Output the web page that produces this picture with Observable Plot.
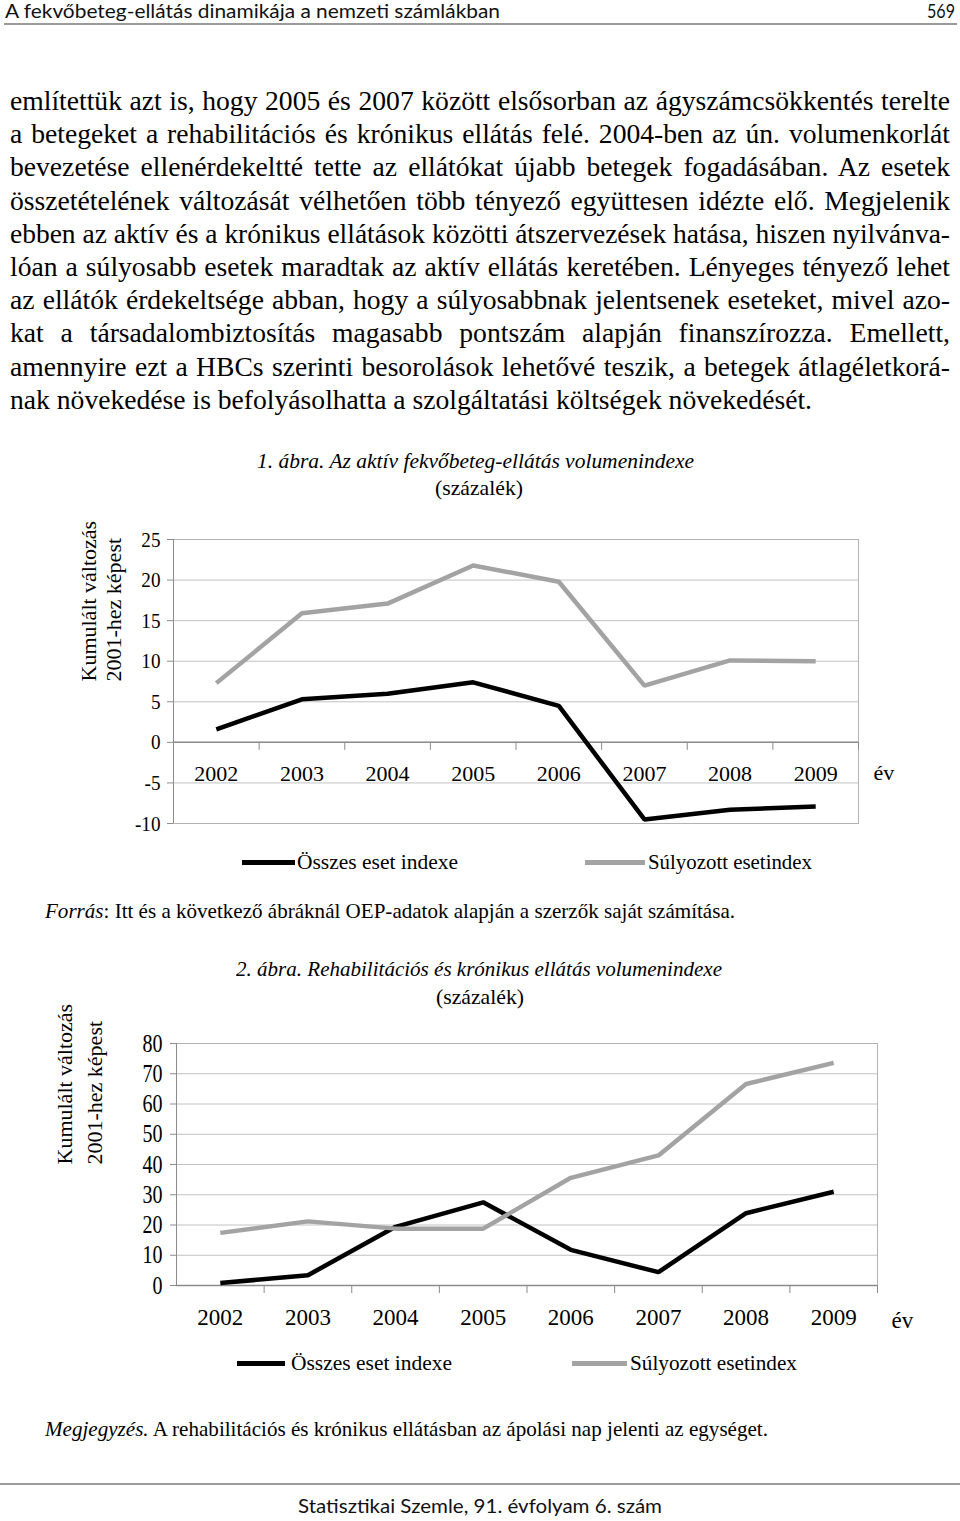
<!DOCTYPE html>
<html><head><meta charset="utf-8">
<script src="https://cdn.jsdelivr.net/npm/d3@7"></script>
<script src="https://cdn.jsdelivr.net/npm/@observablehq/plot@0.6"></script>
<style>
html,body{margin:0;padding:0;background:#fff;}
#page{position:relative;width:960px;height:1521px;overflow:hidden;font-family:"Liberation Serif","Times New Roman",serif;color:#000;}
.t{position:absolute;white-space:nowrap;transform-origin:0 50%;}
.sw{position:absolute;}
.hr{position:absolute;height:2px;background:#9a9a9a;}
.chart{position:absolute;left:0;}
</style></head>
<body><div id="page"></div>
<script>
// ---------- data ----------
const years = [2002, 2003, 2004, 2005, 2006, 2007, 2008, 2009];
const seriesNames = ["Összes eset indexe", "Súlyozott esetindex"];
const chart1Osszes = [1.6, 5.3, 6.0, 7.4, 4.5, -9.5, -8.3, -7.9];
const chart1Sulyozott = [7.3, 15.9, 17.1, 21.8, 19.8, 7.0, 10.1, 10.0];
const chart1Ticks = [-10, -5, 0, 5, 10, 15, 20, 25];
const chart2Osszes = [0.8, 3.4, 19.4, 27.5, 11.8, 4.4, 23.9, 31.0];
const chart2Sulyozott = [17.4, 21.2, 18.8, 18.8, 35.6, 43.0, 66.6, 73.6];
const chart2Ticks = [0, 10, 20, 30, 40, 50, 60, 70, 80];
const yTitleLines = ["Kumulált változás", "2001-hez képest"];
const xUnit = "év";

const bodyLines = [
"említettük azt is, hogy 2005 és 2007 között elsősorban az ágyszámcsökkentés terelte",
"a betegeket a rehabilitációs és krónikus ellátás felé. 2004-ben az ún. volumenkorlát",
"bevezetése ellenérdekeltté tette az ellátókat újabb betegek fogadásában. Az esetek",
"összetételének változását vélhetően több tényező együttesen idézte elő. Megjelenik",
"ebben az aktív és a krónikus ellátások közötti átszervezések hatása, hiszen nyilvánva-",
"lóan a súlyosabb esetek maradtak az aktív ellátás keretében. Lényeges tényező lehet",
"az ellátók érdekeltsége abban, hogy a súlyosabbnak jelentsenek eseteket, mivel azo-",
"kat a társadalombiztosítás magasabb pontszám alapján finanszírozza. Emellett,",
"amennyire ezt a HBCs szerinti besorolások lehetővé teszik, a betegek átlagéletkorá-",
"nak növekedése is befolyásolhatta a szolgáltatási költségek növekedését."
];

const page = document.getElementById("page");
function addText(html, left, cy, size, targetW, opts = {}) {
  const el = document.createElement("div");
  el.className = "t";
  el.innerHTML = html;
  el.style.left = left + "px";
  el.style.fontSize = size + "px";
  const lh = opts.lineHeight || size * 1.2;
  el.style.lineHeight = lh + "px";
  el.style.top = (opts.top !== undefined ? opts.top : cy - lh / 2) + "px";
  if (opts.family) el.style.fontFamily = opts.family;
  if (opts.italic) el.style.fontStyle = "italic";
  if (opts.color) el.style.color = opts.color;
  page.appendChild(el);
  if (targetW) {
    const w = el.getBoundingClientRect().width;
    el.style.transform = `scaleX(${targetW / w})`;
  }
  return el;
}
function addBox(cls, left, top, w, h, color) {
  const el = document.createElement("div");
  el.className = cls;
  Object.assign(el.style, {left: left + "px", top: top + "px", width: w + "px", height: h + "px"});
  if (color) el.style.background = color;
  page.appendChild(el);
}

// header
const headFont = "Lato, 'Open Sans', sans-serif";
addText("A fekvőbeteg-ellátás dinamikája a nemzeti számlákban", 5, 0, 18.5, 495, {family: headFont, color: "#111", top: 0});
addText("569", 927, 0, 18.5, 28, {family: headFont, color: "#111", top: 0});
addBox("hr", 4, 23, 953, 2);

// body text lines
(function(){
  const size = 28;
  const lh = 33.2;
  const top0 = 84;
  const probe = addText(bodyLines[bodyLines.length - 1], 10, 700, size);
  const f = 802 / probe.getBoundingClientRect().width;
  probe.remove();
  bodyLines.forEach((line, i) => {
    const el = document.createElement("div");
    el.className = "t";
    el.textContent = line;
    el.style.fontSize = size + "px";
    el.style.lineHeight = lh + "px";
    el.style.left = "10px";
    el.style.top = (top0 + i * lh) + "px";
    page.appendChild(el);
    const nw = el.getBoundingClientRect().width;
    const last = i === bodyLines.length - 1;
    if (last) {
      el.style.transform = `scaleX(${f})`;
    } else {
      const s = Math.min(f, 940 / nw);
      el.style.whiteSpace = "normal";
      el.style.width = (940 / s) + "px";
      el.style.textAlign = "justify";
      el.style.textAlignLast = "justify";
      el.style.transform = `scaleX(${s})`;
    }
  });
})();

// ---------- charts ----------
function fitTexts(svg, label, factor) {
  svg.querySelectorAll(`g[aria-label="${label}"] text`).forEach(t => {
    const w = t.getComputedTextLength();
    t.setAttribute("textLength", (w * factor).toFixed(2));
    t.setAttribute("lengthAdjust", "spacingAndGlyphs");
  });
}
function setLength(svg, label, len) {
  svg.querySelectorAll(`g[aria-label="${label}"] text`).forEach(t => {
    t.setAttribute("textLength", len);
    t.setAttribute("lengthAdjust", "spacingAndGlyphs");
  });
}
function makeChart(cfg) {
  const data = [];
  years.forEach((yr, i) => data.push({year: yr, value: cfg.osszes[i], series: seriesNames[0]}));
  years.forEach((yr, i) => data.push({year: yr, value: cfg.sulyozott[i], series: seriesNames[1]}));
  const xDomain = [years[0] - 0.5, years[years.length - 1] + 0.5];
  const boundaries = years.map(d => d + 0.5);
  const svg = Plot.plot({
    width: 960,
    height: cfg.height,
    marginTop: cfg.marginTop,
    marginBottom: cfg.marginBottom,
    marginLeft: cfg.marginLeft,
    marginRight: cfg.marginRight,
    style: {fontFamily: "'Liberation Serif', 'Times New Roman', serif", color: "#000", background: "transparent", overflow: "visible"},
    x: {domain: xDomain, axis: null},
    y: {domain: [cfg.ticks[0], cfg.ticks[cfg.ticks.length - 1]]},
    color: {domain: seriesNames, range: ["#000000", "#a3a3a3"]},
    marks: [
      Plot.gridY(cfg.ticks, {stroke: "#c2c2c2", strokeOpacity: 1}),
      Plot.frame({stroke: "#b3b3b3"}),
      Plot.ruleX([xDomain[0]], {stroke: "#8c8c8c"}),
      Plot.axisY(cfg.ticks, {tickSize: 6, tickPadding: cfg.tickPadding, stroke: "#8c8c8c", fontSize: cfg.yFont, label: null, fill: "#000", tickFormat: d => String(d)}),
      Plot.ruleY([0], {stroke: "#8c8c8c", strokeWidth: 1.5}),
      Plot.ruleX(boundaries, {y1: 0, y2: 0, insetBottom: -8, stroke: "#8c8c8c"}),
      Plot.line(data, {x: "year", y: "value", z: "series", stroke: "series", strokeWidth: 4.5, strokeLinejoin: "miter", strokeLinecap: "butt"}),
      Plot.text(years, {x: d => d, y: 0, dy: 32, text: d => String(d), fontSize: cfg.xFont, fill: "#000", ariaLabel: "xlabels"}),
      Plot.text([xUnit], {x: xDomain[1], y: 0, dy: cfg.unitDy, dx: cfg.unitDx, text: d => d, textAnchor: "start", fontSize: cfg.xFont, fill: "#000", ariaLabel: "xunit"}),
      Plot.text([yTitleLines[0]], {frameAnchor: "left", rotate: -90, dx: cfg.titleDx[0], text: d => d, fontSize: cfg.titleFont, fill: "#000", ariaLabel: "ytitle1"}),
      Plot.text([yTitleLines[1]], {frameAnchor: "left", rotate: -90, dx: cfg.titleDx[1], text: d => d, fontSize: cfg.titleFont, fill: "#000", ariaLabel: "ytitle2"})
    ]
  });
  const wrap = document.createElement("div");
  wrap.className = "chart";
  wrap.style.top = cfg.top + "px";
  wrap.appendChild(svg);
  page.appendChild(wrap);
  fitTexts(svg, "y-axis tick label", cfg.yFit);
  fitTexts(svg, "xlabels", cfg.xFit);
  fitTexts(svg, "xunit", cfg.xFit);
  setLength(svg, "ytitle1", cfg.titleLen[0]);
  setLength(svg, "ytitle2", cfg.titleLen[1]);
}

// figure 1
addText("1. ábra. Az aktív fekvőbeteg-ellátás volumenindexe", 257, 462, 21, 437, {italic: true});
addText("(százalék)", 435, 489, 21, 88);
makeChart({top: 510, height: 330, marginTop: 29, marginBottom: 17, marginLeft: 173, marginRight: 102,
  osszes: chart1Osszes, sulyozott: chart1Sulyozott, ticks: chart1Ticks,
  tickPadding: 7, yFont: 22, yFit: 0.87, xFont: 22, xFit: 0.9,
  titleDx: [-85, -60], titleFont: 22, titleLen: [160, 137], unitDx: 15, unitDy: 31});
addBox("sw", 242, 860, 53, 5, "#000");
addText(seriesNames[0], 297, 862, 22, 161);
addBox("sw", 585, 860, 60, 5, "#a3a3a3");
addText(seriesNames[1], 648, 862, 22, 164);
addText("<i>Forrás</i>: Itt és a következő ábráknál OEP-adatok alapján a szerzők saját számítása.", 45, 912, 21, 690);

// figure 2
addText("2. ábra. Rehabilitációs és krónikus ellátás volumenindexe", 236, 970, 21, 486, {italic: true});
addText("(százalék)", 436, 998, 21, 88);
makeChart({top: 1020, height: 315, marginTop: 23, marginBottom: 50, marginLeft: 176, marginRight: 83,
  osszes: chart2Osszes, sulyozott: chart2Sulyozott, ticks: chart2Ticks,
  tickPadding: 8, yFont: 25, yFit: 0.8, xFont: 23, xFit: 0.85,
  titleDx: [-112, -82], titleFont: 22, titleLen: [160, 138], unitDx: 14, unitDy: 35});
addBox("sw", 237, 1361, 48, 5, "#000");
addText(seriesNames[0], 291, 1363, 22, 161);
addBox("sw", 572, 1361, 55, 5, "#a3a3a3");
addText(seriesNames[1], 630, 1363, 22, 167);
addText("<i>Megjegyzés.</i> A rehabilitációs és krónikus ellátásban az ápolási nap jelenti az egységet.", 45, 1430, 21, 723);

// footer
addBox("hr", 0, 1483, 960, 2);
addText("Statisztikai Szemle, 91. évfolyam 6. szám", 298, 1505, 20, 364, {family: headFont, color: "#111"});
</script>
</body></html>
